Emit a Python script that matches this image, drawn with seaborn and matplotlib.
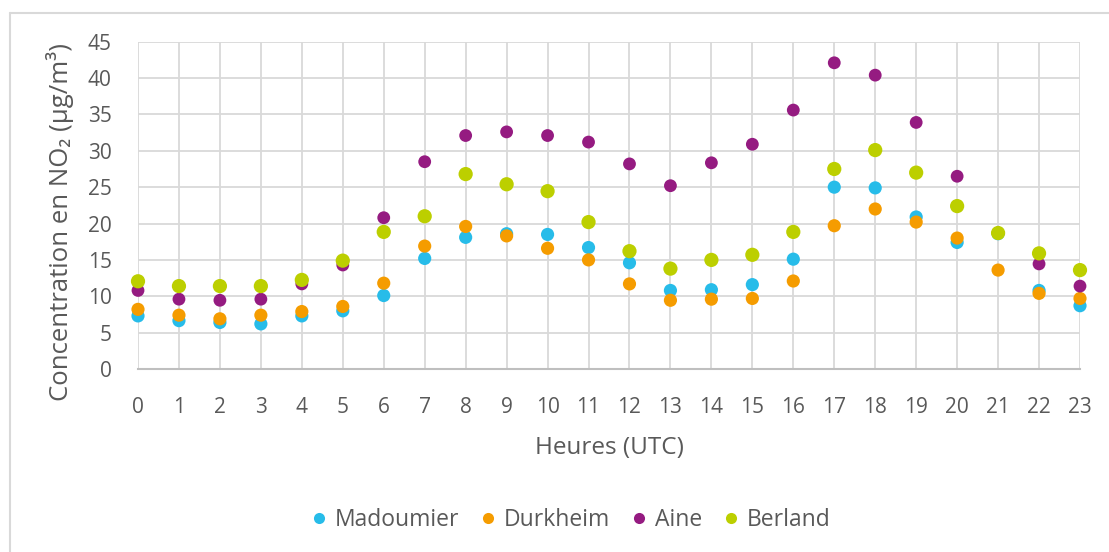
import matplotlib
matplotlib.use("Agg")
import matplotlib.pyplot as plt
import seaborn as sns
import pandas as pd
from matplotlib.lines import Line2D

hours = list(range(24))
madoumier = [7.3, 6.65, 6.4, 6.2, 7.3, 8.0, 10.1, 15.2, 18.1, 18.6, 18.5, 16.7,
             14.6, 10.8, 10.9, 11.6, 15.1, 25.0, 24.9, 20.9, 17.4, 18.6, 10.8, 8.7]
durkheim = [8.2, 7.4, 6.9, 7.4, 7.9, 8.6, 11.8, 16.9, 19.6, 18.3, 16.6, 15.0,
            11.7, 9.45, 9.6, 9.7, 12.1, 19.7, 22.0, 20.2, 18.0, 13.6, 10.4, 9.7]
aine = [10.8, 9.6, 9.45, 9.6, 11.7, 14.3, 20.8, 28.5, 32.1, 32.6, 32.1, 31.2,
        28.2, 25.2, 28.35, 30.9, 35.6, 42.1, 40.4, 33.9, 26.5, 18.7, 14.45, 11.4]
berland = [12.06, 11.4, 11.4, 11.4, 12.25, 14.9, 18.85, 21.0, 26.8, 25.4, 24.45, 20.2,
           16.2, 13.8, 15.0, 15.7, 18.85, 27.5, 30.1, 27.0, 22.4, 18.7, 15.9, 13.6]
stations = ["Madoumier", "Durkheim", "Aine", "Berland"]
colors = ["#27BCE9", "#F59C00", "#951B81", "#BCCF00"]
yticks = list(range(0, 50, 5))

df = pd.DataFrame({
    "hour": hours * 4,
    "value": madoumier + durkheim + aine + berland,
    "station": sum([[s] * 24 for s in stations], []),
})

sns.set_theme(style="white")
plt.rcParams["font.family"] = ["Open Sans", "DejaVu Sans"]
text_color = "#595959"

fig = plt.figure(figsize=(11.09, 5.52), dpi=100)
ax = fig.add_axes([138 / 1109, 1 - 369 / 552, (1080 - 138) / 1109, (369 - 41.7) / 552])

sns.scatterplot(data=df, x="hour", y="value", hue="station", hue_order=stations,
                palette=dict(zip(stations, colors)),
                size="station", sizes={"Madoumier": 90, "Durkheim": 90, "Aine": 85, "Berland": 105},
                linewidth=0, legend=False, ax=ax, clip_on=False, zorder=3)

ax.set_xlim(0, 23)
ax.set_ylim(0, 45)
ax.set_xticks(hours)
ax.set_yticks(yticks)
ax.grid(True, color="#d9d9d9", linewidth=1.3)
ax.set_axisbelow(True)
for side in ["top", "right", "left"]:
    ax.spines[side].set_visible(False)
ax.spines["bottom"].set_color("#bfbfbf")
ax.spines["bottom"].set_linewidth(1.5)
ax.tick_params(axis="both", length=0, labelsize=15, labelcolor=text_color)
ax.tick_params(axis="x", pad=20)
ax.tick_params(axis="y", pad=19)
ax.set_xlabel("Heures (UTC)", fontsize=17.5, color=text_color, labelpad=13)
ax.set_ylabel("Concentration en NO\u2082 (\u00b5g/m\u00b3)", fontsize=18.5, color=text_color)
ax.yaxis.set_label_coords((74 - 138) / 942, (369 - 222) / 327.3)

handles = [Line2D([0], [0], marker="o", linestyle="none", markersize=8,
                  markerfacecolor=c, markeredgewidth=0) for c in colors]
leg = fig.legend(handles, stations, loc="center", bbox_to_anchor=(569 / 1109, 1 - 520 / 552),
                 ncol=4, frameon=False, fontsize=16.5, handletextpad=0.2,
                 columnspacing=0.75, handlelength=1.0)
for t in leg.get_texts():
    t.set_color(text_color)

# chart area border (left and top visible)
fig.add_artist(Line2D([10 / 1109, 10 / 1109], [0, 1 - 13 / 552], transform=fig.transFigure,
                      color="#d9d9d9", linewidth=1.5))
fig.add_artist(Line2D([10 / 1109, 1], [1 - 13 / 552, 1 - 13 / 552], transform=fig.transFigure,
                      color="#d9d9d9", linewidth=1.5))

fig.savefig("out.png", dpi=100, facecolor="white")
